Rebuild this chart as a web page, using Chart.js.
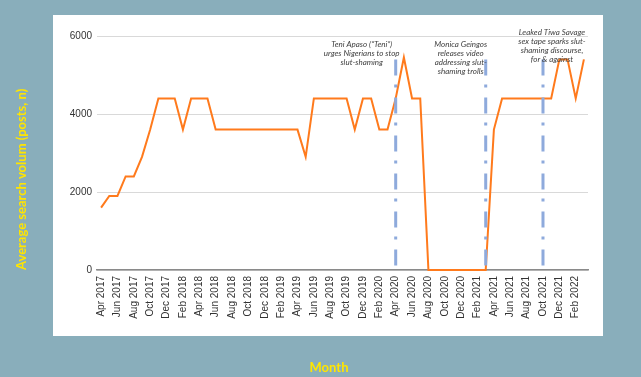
<!DOCTYPE html>
<html><head><meta charset="utf-8">
<script src="https://cdn.jsdelivr.net/npm/chart.js@4"></script>
<style>html,body{margin:0;padding:0;background:#89aebb;overflow:hidden}</style>
</head><body>
<canvas id="c" width="641" height="377"></canvas>
<script>
const months = [
 'Apr 2017','May 2017','Jun 2017','Jul 2017','Aug 2017','Sep 2017','Oct 2017','Nov 2017','Dec 2017',
 'Jan 2018','Feb 2018','Mar 2018','Apr 2018','May 2018','Jun 2018','Jul 2018','Aug 2018','Sep 2018','Oct 2018','Nov 2018','Dec 2018',
 'Jan 2019','Feb 2019','Mar 2019','Apr 2019','May 2019','Jun 2019','Jul 2019','Aug 2019','Sep 2019','Oct 2019','Nov 2019','Dec 2019',
 'Jan 2020','Feb 2020','Mar 2020','Apr 2020','May 2020','Jun 2020','Jul 2020','Aug 2020','Sep 2020','Oct 2020','Nov 2020','Dec 2020',
 'Jan 2021','Feb 2021','Mar 2021','Apr 2021','May 2021','Jun 2021','Jul 2021','Aug 2021','Sep 2021','Oct 2021','Nov 2021','Dec 2021',
 'Jan 2022','Feb 2022','Mar 2022'
];
const searchVolume = [
 1600,1900,1900,2400,2400,2900,3600,4400,4400,
 4400,3600,4400,4400,4400,3600,3600,3600,3600,3600,3600,3600,
 3600,3600,3600,3600,2900,4400,4400,4400,4400,4400,3600,4400,
 4400,3600,3600,4400,5450,4400,4400,0,0,0,0,0,
 0,0,0,3600,4400,4400,4400,4400,4400,4400,4400,5400,
 5400,4400,5400
];
const yTicks = [0, 2000, 4000, 6000];
const eventMonths = ['Apr 2020', 'Mar 2021', 'Oct 2021'];
const eventTop = 5400;
const eventNotes = [
 ['Teni Apaso (\u201cTeni\u201d)', 'urges Nigerians to stop', 'slut-shaming'],
 ['Monica Geingos', 'releases video', 'addressing slut-', 'shaming trolls'],
 ['Leaked Tiwa Savage', 'sex tape sparks slut-', 'shaming discourse,', 'for & against']
];
const yTitle = 'Average search volum (posts, n)';
const xTitle = 'Month';

const noteDx = [-34, -25, 9];
const noteTop = [44, 44, 32];

const panelPlugin = {
  id: 'panel',
  beforeDraw(chart) {
    const ctx = chart.ctx;
    ctx.save();
    ctx.fillStyle = '#89aebb';
    ctx.fillRect(0, 0, chart.width, chart.height);
    ctx.fillStyle = '#ffffff';
    ctx.fillRect(53, 15, 550, 321);
    ctx.restore();
  },
  afterDraw(chart) {
    const ctx = chart.ctx;
    ctx.save();
    ctx.fillStyle = '#ffe500';
    ctx.font = 'bold 13px Lato';
    ctx.textAlign = 'center';
    ctx.textBaseline = 'middle';
    ctx.fillText(xTitle, 329, 368);
    ctx.restore();
  }
};

const eventPlugin = {
  id: 'events',
  afterDatasetsDraw(chart) {
    const ctx = chart.ctx, x = chart.scales.x, y = chart.scales.y;
    ctx.save();
    ctx.strokeStyle = '#8eaadc';
    ctx.lineWidth = 3;
    ctx.setLineDash([16, 9, 3, 10]);
    eventMonths.forEach(m => {
      const px = x.getPixelForValue(months.indexOf(m));
      ctx.beginPath();
      ctx.moveTo(px, y.getPixelForValue(eventTop));
      ctx.lineTo(px, y.getPixelForValue(0));
      ctx.stroke();
    });
    ctx.restore();
  },
  afterDraw(chart) {
    const ctx = chart.ctx, x = chart.scales.x;
    ctx.save();
    ctx.fillStyle = '#404040';
    ctx.font = 'italic 8px Lato';
    ctx.textAlign = 'center';
    ctx.textBaseline = 'middle';
    eventNotes.forEach((lines, i) => {
      const px = x.getPixelForValue(months.indexOf(eventMonths[i])) + noteDx[i];
      lines.forEach((t, j) => ctx.fillText(t, px, noteTop[i] + j * 9.3));
    });
    ctx.restore();
  }
};

new Chart(document.getElementById('c'), {
  type: 'line',
  data: {
    labels: months,
    datasets: [{
      data: searchVolume,
      borderColor: '#ff7a1c',
      borderWidth: 2,
      pointRadius: 0,
      tension: 0,
      fill: false,
      clip: false
    }]
  },
  options: {
    responsive: false,
    devicePixelRatio: 1,
    animation: false,
    layout: { padding: { left: 0, top: 36, right: 53, bottom: 0 } },
    plugins: { legend: { display: false }, tooltip: { enabled: false } },
    scales: {
      x: {
        offset: true,
        grid: { display: false, drawTicks: false },
        border: { display: true, color: '#8a8a8a', width: 1.5 },
        ticks: {
          autoSkip: false,
          maxRotation: 90, minRotation: 90,
          padding: 6,
          color: '#333333',
          font: { family: 'Liberation Sans', size: 10 },
          callback: function(v, i) { return i % 2 === 0 ? this.getLabelForValue(v) : ''; }
        },
        title: { display: false },
        afterFit(s) { s.height = 107; }
      },
      y: {
        min: 0, max: 6000,
        afterBuildTicks(s) { s.ticks = yTicks.map(v => ({ value: v })); },
        grid: { color: '#d9d9d9', lineWidth: 1, drawTicks: false },
        border: { display: false },
        ticks: {
          padding: 5,
          color: '#333333',
          font: { family: 'Liberation Sans', size: 10 },
          callback: v => String(v)
        },
        title: {
          display: true, text: yTitle, color: '#ffe500', align: 'start',
          font: { family: 'Lato', size: 13, weight: 'bold' },
          padding: { top: 14, bottom: 0 }
        },
        afterFit(s) { s.width = 97; }
      }
    }
  },
  plugins: [panelPlugin, eventPlugin]
});
</script>
</body></html>
